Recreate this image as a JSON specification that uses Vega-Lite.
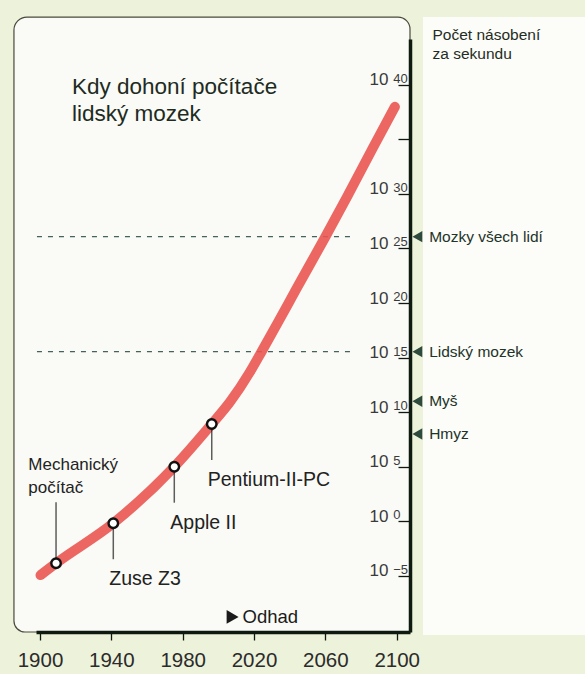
{
  "$schema": "https://vega.github.io/schema/vega-lite/v6.json",
  "width": 374,
  "height": 593,
  "autosize": {"type": "none"},
  "padding": {"left": 36, "top": 39, "right": 175, "bottom": 42},
  "background": "#edf2da",
  "config": {
    "view": {"stroke": null},
    "font": "Liberation Sans",
    "axis": {"grid": false, "labelFont": "Liberation Sans", "titleFont": "Liberation Sans"}
  },
  "resolve": {"axis": {"y": "independent"}},
  "datasets": {
    "curve": [
      {"year": 1900.3, "value": 1.2e-5},
      {"year": 1909.0, "value": 1.45e-4},
      {"year": 1941.1, "value": 0.68},
      {"year": 1975.3, "value": 1.02e5},
      {"year": 1996.3, "value": 8.3e8},
      {"year": 2006.5, "value": 8.5e10},
      {"year": 2017.7, "value": 4.8e13},
      {"year": 2023.9, "value": 2.8e15},
      {"year": 2033.1, "value": 1.35e18},
      {"year": 2043.5, "value": 1.66e21},
      {"year": 2059.8, "value": 1.0e26},
      {"year": 2072.0, "value": 4.7e29},
      {"year": 2086.9, "value": 1.95e34},
      {"year": 2099.0, "value": 9.3e37}
    ],
    "milestones": [
      {"name": "Mechanický počítač", "year": 1909.0, "value": 1.45e-4},
      {"name": "Zuse Z3", "year": 1941.1, "value": 0.68},
      {"name": "Apple II", "year": 1975.3, "value": 1.02e5},
      {"name": "Pentium-II-PC", "year": 1996.3, "value": 8.3e8}
    ],
    "levels": [
      {"label": "Mozky všech lidí", "value": 1.2e26},
      {"label": "Lidský mozek", "value": 3.5e15},
      {"label": "Myš", "value": 1e11},
      {"label": "Hmyz", "value": 1e8}
    ],
    "estimate": [
      {"label": "Odhad", "year": 2008}
    ]
  },
  "layer": [
    {
      "data": {"values": [{}]},
      "mark": {"type": "rect", "fill": "#fafaf6", "stroke": "#4a4a3c", "strokeWidth": 1.2, "cornerRadiusTopLeft": 13, "cornerRadiusTopRight": 12, "cornerRadiusBottomLeft": 11, "cornerRadiusBottomRight": 0},
      "encoding": {
        "x": {"datum": 1885.4, "type": "quantitative", "scale": {"domain": [1897.76, 2107.46], "nice": false, "zero": false},
          "axis": {"zindex": 2, "values": [1900, 1920, 1940, 1960, 1980, 2000, 2020, 2040, 2060, 2080, 2100],
            "labelExpr": "(datum.value - 1900) % 40 == 0 ? format(datum.value, 'd') : ''",
            "title": null, "domainColor": "#0e1a10", "domainWidth": 3.5, "tickColor": "#0e1a10", "tickWidth": 1.3, "tickSize": 8,
            "labelFontSize": 20.5, "labelColor": "#2b2b2b", "labelPadding": 10, "labelFlush": false, "labelOverlap": false}},
        "x2": {"datum": 2107.46},
        "y": {"datum": 1.55e46, "type": "quantitative", "scale": {"type": "log", "domain": [7.41e-11, 1.51e44], "nice": false},
          "axis": {"zindex": 2, "orient": "right",
            "values": [1e-5, 1, 1e5, 1e10, 1e15, 1e20, 1e25, 1e30, 1e35, 1e40],
            "labelExpr": "round(log(datum.value)/LN10) == 35 ? '' : '10'",
            "labelAlign": "right", "labelBaseline": "alphabetic", "labelPadding": -10, "labelFontSize": 17, "labelColor": "#3a3a3a",
            "labelFlush": false, "labelOverlap": false,
            "tickSize": -12, "tickWidth": 1.3, "tickColor": "#0e1a10", "domainColor": "#0e1a10", "domainWidth": 3.5,
            "title": ["Počet násobení", "za sekundu"], "titleAngle": 0, "titleAlign": "left", "titleBaseline": "alphabetic",
            "titleX": 22, "titleY": 0.3, "titleFontSize": 15.5, "titleFontWeight": "normal", "titleColor": "#1f2d24", "titleLineHeight": 19.5}},
        "y2": {"datum": 7.41e-11}
      }
    },
    {
      "data": {"values": [{}]},
      "mark": {"type": "rect", "fill": "#fcfcf9"},
      "encoding": {
        "x": {"datum": 2114.75, "type": "quantitative"},
        "x2": {"datum": 2215},
        "y": {"datum": 1.55e46, "type": "quantitative", "axis": null},
        "y2": {"datum": 3.98e-11}
      }
    },
    {
      "data": {"name": "levels"},
      "transform": [{"filter": "datum.label == 'Mozky všech lidí' || datum.label == 'Lidský mozek'"}],
      "mark": {"type": "rule", "strokeDash": [5, 6], "color": "#44625e", "strokeWidth": 1.3},
      "encoding": {
        "x": {"datum": 1898.3, "type": "quantitative"},
        "x2": {"datum": 2076.6},
        "y": {"field": "value", "type": "quantitative", "axis": null}
      }
    },
    {
      "data": {"name": "curve"},
      "mark": {"type": "line", "interpolate": "monotone", "color": "#ea5552", "strokeWidth": 10, "strokeCap": "round", "opacity": 0.9},
      "encoding": {
        "x": {"field": "year", "type": "quantitative"},
        "y": {"field": "value", "type": "quantitative",
          "axis": {"zindex": 2, "orient": "right",
            "values": [1e-5, 1, 1e5, 1e10, 1e15, 1e20, 1e25, 1e30, 1e35, 1e40],
            "labelExpr": "['−5','0','5','10','15','20','25','30','','40'][round(log(datum.value)/LN10/5)+1]",
            "labelAlign": "left", "labelBaseline": "alphabetic", "labelOffset": -2.5, "labelPadding": -5.3, "labelFontSize": 13, "labelColor": "#3a3a3a",
            "labelFlush": false, "labelOverlap": false,
            "tickSize": -12, "tickOpacity": 0, "domain": false, "title": null}}
      }
    },
    {
      "data": {"name": "milestones"},
      "transform": [{"filter": "datum.name != 'Mechanický počítač'"}],
      "mark": {"type": "tick", "orient": "vertical", "size": 36, "thickness": 1.5, "yOffset": 18, "color": "#1a1a1a"},
      "encoding": {
        "x": {"field": "year", "type": "quantitative"},
        "y": {"field": "value", "type": "quantitative", "axis": null}
      }
    },
    {
      "data": {"name": "milestones"},
      "transform": [{"filter": "datum.name == 'Mechanický počítač'"}],
      "mark": {"type": "tick", "orient": "vertical", "size": 61, "thickness": 1.5, "yOffset": -30.5, "color": "#1a1a1a"},
      "encoding": {
        "x": {"field": "year", "type": "quantitative"},
        "y": {"field": "value", "type": "quantitative", "axis": null}
      }
    },
    {
      "data": {"name": "milestones"},
      "mark": {"type": "point", "shape": "circle", "filled": true, "fill": "#ffffff", "stroke": "#111111", "strokeWidth": 2.4, "size": 90, "opacity": 1},
      "encoding": {
        "x": {"field": "year", "type": "quantitative"},
        "y": {"field": "value", "type": "quantitative", "axis": null}
      }
    },
    {
      "data": {"name": "milestones"},
      "transform": [{"filter": "datum.name != 'Mechanický počítač'"}],
      "mark": {"type": "text", "align": "left", "baseline": "alphabetic", "dx": -4, "dy": 62, "fontSize": 19.5, "color": "#222222"},
      "encoding": {
        "x": {"field": "year", "type": "quantitative"},
        "y": {"field": "value", "type": "quantitative", "axis": null},
        "text": {"field": "name"}
      }
    },
    {
      "data": {"name": "milestones"},
      "transform": [{"filter": "datum.name == 'Mechanický počítač'"}],
      "mark": {"type": "text", "align": "left", "baseline": "alphabetic", "dx": -27.7, "dy": -93.3, "lineBreak": " ", "lineHeight": 22.7, "fontSize": 17, "color": "#222222"},
      "encoding": {
        "x": {"field": "year", "type": "quantitative"},
        "y": {"field": "value", "type": "quantitative", "axis": null},
        "text": {"field": "name"}
      }
    },
    {
      "data": {"name": "levels"},
      "mark": {"type": "point", "shape": "triangle-left", "filled": true, "color": "#2d4a3c", "size": 130, "opacity": 1},
      "encoding": {
        "x": {"datum": 2111.6, "type": "quantitative"},
        "y": {"field": "value", "type": "quantitative", "axis": null}
      }
    },
    {
      "data": {"name": "levels"},
      "mark": {"type": "text", "align": "left", "baseline": "middle", "fontSize": 15.5, "color": "#223328"},
      "encoding": {
        "x": {"datum": 2118.2, "type": "quantitative"},
        "y": {"field": "value", "type": "quantitative", "axis": null},
        "text": {"field": "label"}
      }
    },
    {
      "data": {"name": "estimate"},
      "mark": {"type": "point", "shape": "triangle-right", "filled": true, "color": "#1a1a1a", "size": 190, "opacity": 1},
      "encoding": {
        "x": {"field": "year", "type": "quantitative"},
        "y": {"datum": 1.78e-9, "type": "quantitative", "axis": null}
      }
    },
    {
      "data": {"name": "estimate"},
      "mark": {"type": "text", "align": "left", "baseline": "middle", "dx": 10, "fontSize": 18.5, "color": "#1a1a1a"},
      "encoding": {
        "x": {"field": "year", "type": "quantitative"},
        "y": {"datum": 1.78e-9, "type": "quantitative", "axis": null},
        "text": {"field": "label"}
      }
    },
    {
      "data": {"values": [{}]},
      "mark": {"type": "text", "align": "left", "baseline": "alphabetic", "lineBreak": "\n", "lineHeight": 27, "fontSize": 22.5, "color": "#1d2b22"},
      "encoding": {
        "x": {"datum": 1917.94, "type": "quantitative"},
        "y": {"datum": 1.38e39, "type": "quantitative", "axis": null},
        "text": {"value": "Kdy dohoní počítače\nlidský mozek"}
      }
    }
  ]
}
